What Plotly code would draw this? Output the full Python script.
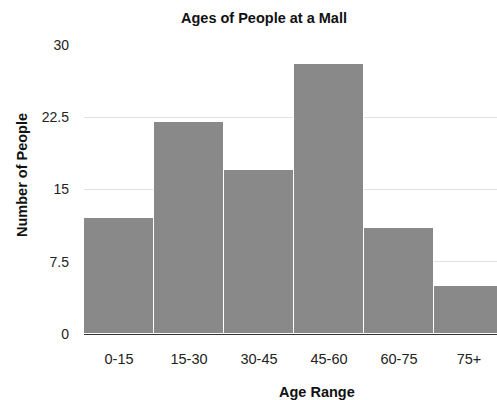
import plotly.graph_objects as go

categories = ["0-15", "15-30", "30-45", "45-60", "60-75", "75+"]
counts = [12, 22, 17, 28, 11, 5]
y_ticks = [0, 7.5, 15, 22.5, 30]
y_tick_labels = ["0", "7.5", "15", "22.5", "30"]

FONT = "Liberation Sans, Arial, Helvetica, sans-serif"

fig = go.Figure(
    go.Bar(
        x=list(range(len(categories))),
        y=counts,
        marker=dict(color="#898989", line=dict(color="white", width=1)),
        width=1.0,
    )
)

fig.update_layout(
    width=497,
    height=400,
    margin=dict(l=84, r=0, t=45, b=66),
    paper_bgcolor="white",
    plot_bgcolor="white",
    showlegend=False,
    font=dict(family=FONT, size=14, color="#222"),
    bargap=0,
)

fig.update_xaxes(
    range=[-0.5, 5.4],
    tickvals=list(range(len(categories))),
    ticktext=categories,
    showgrid=False,
    zeroline=False,
    showline=False,
    ticks="",
    ticklabelstandoff=14,
    tickfont=dict(size=14.5, color="#222"),
)

fig.update_yaxes(
    range=[0, 30],
    tickvals=y_ticks,
    ticktext=y_tick_labels,
    showgrid=True,
    gridcolor="#e2e2e2",
    gridwidth=1,
    zeroline=True,
    zerolinecolor="#333",
    zerolinewidth=2,
    showline=False,
    ticks="",
    ticklabelstandoff=14,
    tickfont=dict(size=14, color="#222"),
)

fig.add_annotation(
    text="<b>Ages of People at a Mall</b>",
    xref="paper", yref="paper",
    x=(264 - 84) / 413, y=(334 - 18) / 289,
    xanchor="center", yanchor="middle",
    showarrow=False,
    font=dict(size=14.5, color="#111", family=FONT),
)
fig.add_annotation(
    text="<b>Number of People</b>",
    xref="paper", yref="paper",
    x=(22 - 84) / 413, y=(334 - 175) / 289,
    xanchor="center", yanchor="middle",
    textangle=-90,
    showarrow=False,
    font=dict(size=14.5, color="#111", family=FONT),
)
fig.add_annotation(
    text="<b>Age Range</b>",
    xref="paper", yref="paper",
    x=(317 - 84) / 413, y=(334 - 392) / 289,
    xanchor="center", yanchor="middle",
    showarrow=False,
    font=dict(size=14.5, color="#111", family=FONT),
)

fig.write_html(
    "out.html",
    config={"displayModeBar": False},
    post_script="document.body.style.margin='0';document.body.style.padding='0';",
)
